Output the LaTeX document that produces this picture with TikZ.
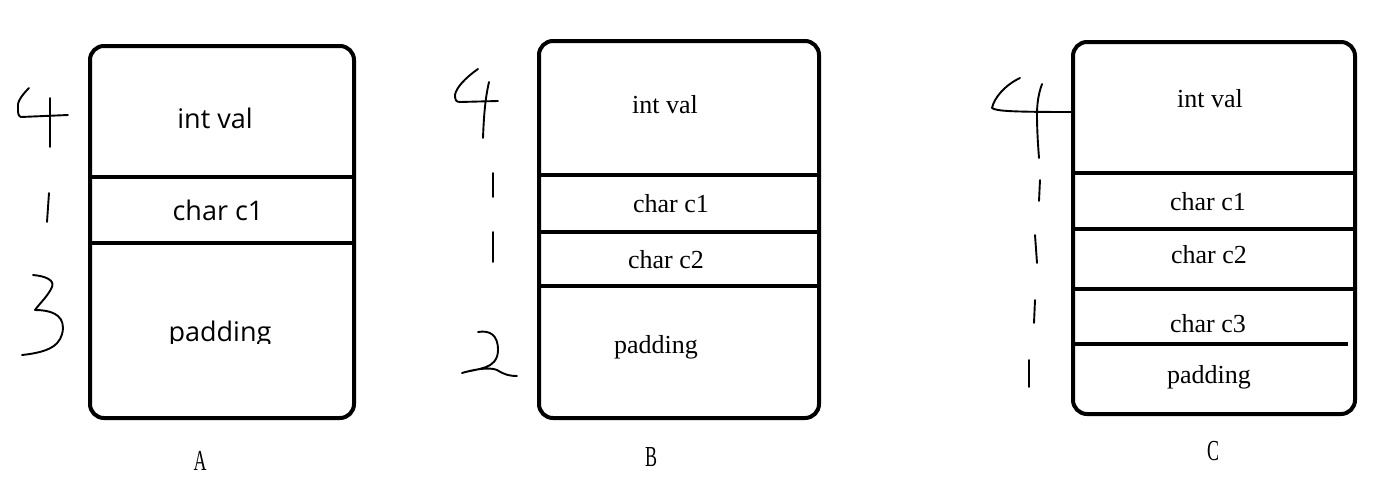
\documentclass[tikz,border=0pt]{standalone}
\usepackage{fontspec}
\setmainfont{Liberation Serif}
\newfontfamily\sansf{Open Sans}
\begin{document}
\begin{tikzpicture}[x=1pt,y=-1pt,
  box/.style={draw, line width=4pt, rounded corners=14pt, inner sep=0pt, anchor=north west},
  sepline/.style={line width=4pt},
  hand/.style={line width=1.9pt, line cap=round, line join=round},
  sanst/.style={font=\sansf\fontsize{27}{30}\selectfont, anchor=base, inner sep=0pt},
  serift/.style={font=\fontsize{26}{28}\selectfont, anchor=base, inner sep=0pt},
  lbl/.style={font=\fontsize{29}{30}\selectfont, anchor=base, inner sep=0pt, xscale=0.62}]
\useasboundingbox (0,0) rectangle (1384,501);
% ---------- A ----------
\node[box, minimum width=264pt, minimum height=372pt] (A) at (88,44) {};
\draw[sepline] (88,177) -- (352,177);
\draw[sepline] (88,243) -- (352,243);
\node[sanst] (Aint) at (215,128) {int val};
\node[sanst] (Ac1) at (218,220) {char c1};
\begin{scope}
  \clip (100,300) rectangle (340,343);
  \node[sanst] (Apad) at (220,341) {padding};
\end{scope}
\draw[hand] (29,88) .. controls (20,97) and (17,103) .. (18,108) .. controls (18,113) and (18,116) .. (21,117) -- (68,115);
\draw[hand] (50,98) -- (50,147);
\draw[hand] (49,193) -- (47,222);
\draw[hand] (33,275) .. controls (45,276) and (55,280) .. (52,287) .. controls (48,296) and (40,303) .. (35,310)
  .. controls (50,310) and (63,314) .. (63,328) .. controls (62,345) and (50,352) .. (22,355);
\node[lbl] (LA) at (200,470) {A};
% ---------- B ----------
\node[box, minimum width=280pt, minimum height=377pt] (B) at (537,39) {};
\draw[sepline] (537,175) -- (817,175);
\draw[sepline] (537,232) -- (820,232);
\draw[sepline] (537,286) -- (817,286);
\node[serift] (Bint) at (665,113) {int val};
\node[serift] (Bc1) at (671,212) {char c1};
\node[serift] (Bc2) at (666,268) {char c2};
\node[serift] (Bpad) at (656,353) {padding};
\draw[hand] (478,69) .. controls (465,78) and (456,88) .. (455,95) .. controls (455,100) and (456,102) .. (460,102) -- (498,101);
\draw[hand] (489,82) .. controls (486,95) and (484,110) .. (483,138);
\draw[hand] (493,173) -- (493,197);
\draw[hand] (493,232) -- (493,262);
\draw[hand] (478,332) .. controls (490,330) and (498,335) .. (498,350) .. controls (498,360) and (492,365) .. (486,367)
  .. controls (478,370) and (468,371) .. (462,373) .. controls (475,369) and (490,367) .. (497,370) .. controls (505,375) and (510,376) .. (517,376);
\node[lbl] (LB) at (651,466) {B};
% ---------- C ----------
\node[box, minimum width=282pt, minimum height=372pt] (C) at (1071,40) {};
\draw[sepline] (1071,173) -- (1353,173);
\draw[sepline] (1071,229) -- (1353,229);
\draw[sepline] (1071,289) -- (1353,289);
\draw[sepline] (1071,344) -- (1348,344);
\node[serift] (Cint) at (1210,107) {int val};
\node[serift] (Cc1) at (1208,210) {char c1};
\node[serift] (Cc2) at (1209,263) {char c2};
\node[serift] (Cc3) at (1208,332) {char c3};
\node[serift] (Cpad) at (1209,383) {padding};
\draw[hand] (1020,78) .. controls (1005,85) and (994,98) .. (992,108) .. controls (996,111) and (1010,112) .. (1073,112);
\draw[hand] (1042,84) .. controls (1038,95) and (1037,105) .. (1037,115) .. controls (1037,130) and (1038,145) .. (1039,158);
\draw[hand] (1040,180) -- (1039,201);
\draw[hand] (1035,235) -- (1037,263);
\draw[hand] (1035,300) -- (1034,323);
\draw[hand] (1029,360) -- (1029,387);
\node[lbl] (LC) at (1213,460) {C};
\end{tikzpicture}
\end{document}
